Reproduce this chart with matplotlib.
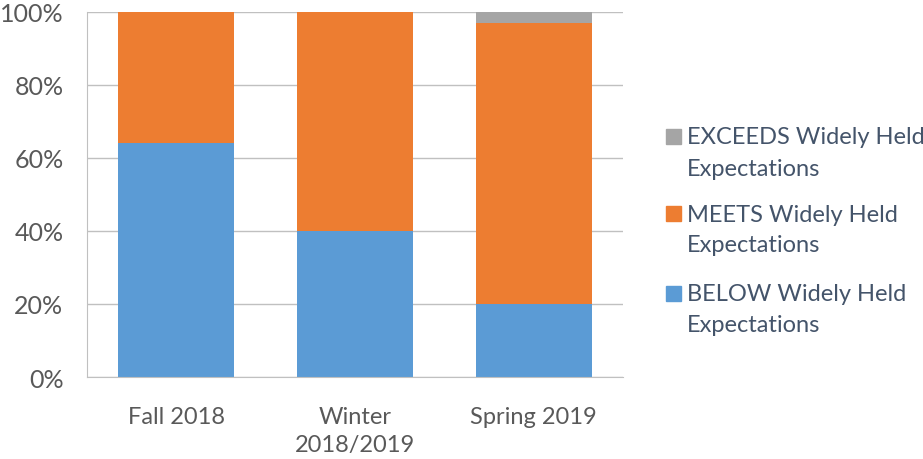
import numpy as np
import matplotlib.pyplot as plt
from matplotlib.patches import Rectangle

plt.rcParams['font.family'] = ['Lato', 'DejaVu Sans']

terms = ['Fall 2018', 'Winter\n2018/2019', 'Spring 2019']
below = [64, 40, 20]
meets = [36, 60, 77]
exceeds = [0, 0, 3]
labels = [('BELOW Widely Held', 'Expectations'), ('MEETS Widely Held', 'Expectations'),
          ('EXCEEDS Widely Held', 'Expectations')]
colors = ['#5B9BD5', '#ED7D31', '#A5A5A5']

W, H = 923, 460
fig = plt.figure(figsize=(W / 100, H / 100), dpi=100)
ax = fig.add_axes([87 / W, 1 - 378 / H, 536 / W, 365 / H])

x = np.arange(len(terms))
w = 0.65
ax.bar(x, below, w, color=colors[0], zorder=2)
ax.bar(x, meets, w, bottom=below, color=colors[1], zorder=2)
ax.bar(x, exceeds, w, bottom=np.add(below, meets), color=colors[2], zorder=2)

ax.set_xlim(-0.5, 2.5)
ax.set_ylim(0, 100)
ax.set_yticks(np.arange(0, 101, 20))
ax.set_yticklabels([f'{v}%' for v in range(0, 101, 20)])
ax.set_xticks(x)
ax.set_xticklabels(terms, linespacing=1.4)
ax.grid(axis='y', color='#C0C0C0', linewidth=1, zorder=0)
for s in ['top', 'right']:
    ax.spines[s].set_visible(False)
ax.spines['bottom'].set_color('#C0C0C0')
ax.spines['left'].set_color('#C0C0C0')
ax.tick_params(length=0, colors='#595959')
ax.tick_params(axis='x', pad=21, labelsize=17)
ax.tick_params(axis='y', pad=17, labelsize=18)

# legend drawn by hand so the squares sit on the first line like the original
first_line = [295, 215, 138]
for (l1, l2), c, yc in zip(labels, colors, first_line):
    fig.patches.append(Rectangle((666 / W, 1 - (yc + 7) / H), 15 / W, 15 / H,
                                 transform=fig.transFigure, color=c))
    fig.text(687 / W, 1 - yc / H, l1, va='center', ha='left', fontsize=17, color='#44546A')
    fig.text(687 / W, 1 - (yc + 31) / H, l2, va='center', ha='left', fontsize=17, color='#44546A')

fig.savefig('out.png', dpi=100)
